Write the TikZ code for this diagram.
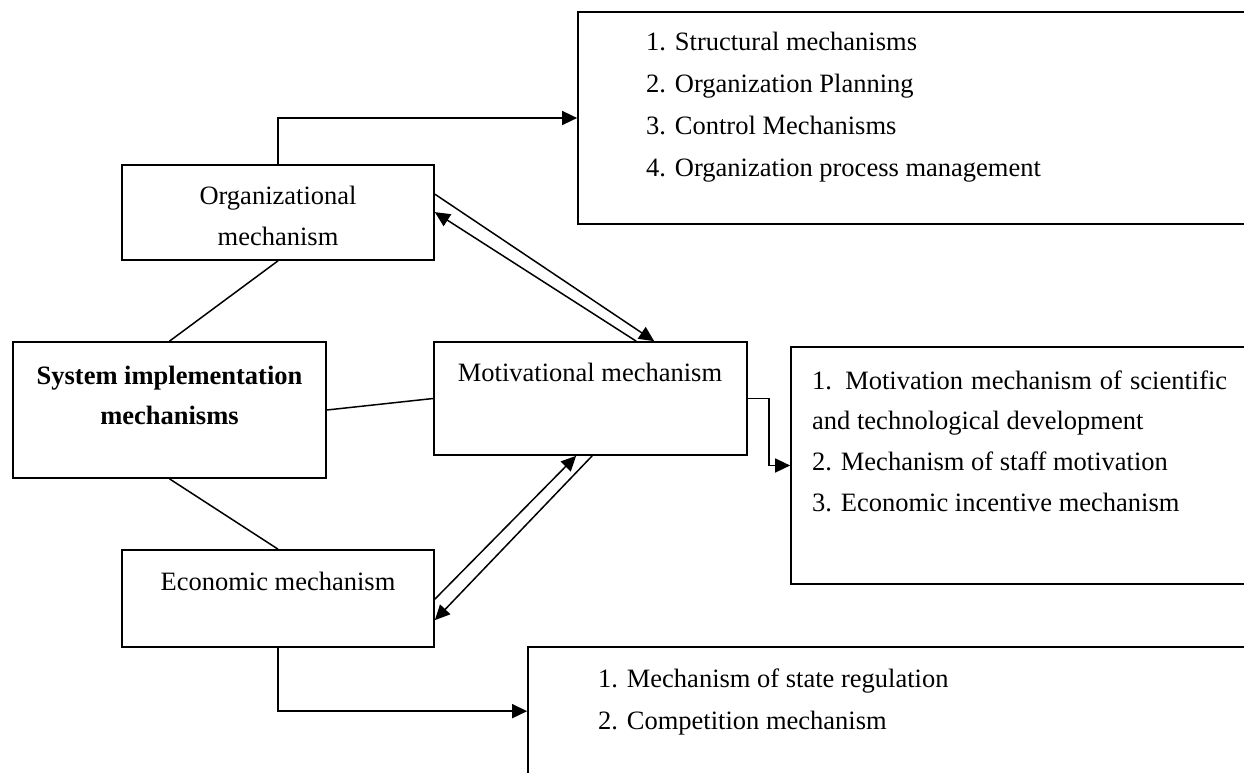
\documentclass[tikz,border=0pt]{standalone}
\usepackage{fontspec}
\setmainfont{Liberation Serif}
\usetikzlibrary{arrows.meta,calc}
\begin{document}
\begin{tikzpicture}[x=1pt,y=-1pt,
  box/.style={draw,line width=1.7pt,inner sep=0pt,rectangle},
  conn/.style={line width=1.5pt},
  arr/.style={line width=1.5pt,-{Triangle[length=15pt,width=14pt]}},
  lbl/.style={anchor=base,inner sep=0pt,font=\fontsize{26.5}{41}\selectfont},
  lst/.style={anchor=base west,inner sep=0pt,font=\fontsize{26.5}{41}\selectfont}]
\useasboundingbox (0,0) rectangle (1244,773);
\clip (0,0) rectangle (1244,773);
% boxes
\node[box,minimum width=712pt,minimum height=212pt] (b1) at (934,118) {};
\node[box,minimum width=312pt,minimum height=95pt] (org) at (278,212.5) {};
\node[box,minimum width=313pt,minimum height=136pt] (sys) at (169.5,410) {};
\node[box,minimum width=313pt,minimum height=113pt] (motiv) at (590.5,398.5) {};
\node[box,minimum width=499pt,minimum height=237pt] (rb) at (1040.5,465.5) {};
\node[box,minimum width=312pt,minimum height=97pt] (econ) at (278,598.5) {};
\node[box,minimum width=762pt,minimum height=173pt] (bb) at (909,733.5) {};
% labels
\node[lbl] (orgA) at (278,204) {Organizational};
\node[lbl] (orgB) at (278,245) {mechanism};
\node[lbl,font=\fontsize{26.5}{41}\selectfont\bfseries] (sysA) at (169.5,384) {System implementation};
\node[lbl,font=\fontsize{26.5}{41}\selectfont\bfseries] (sysB) at (169.5,424) {mechanisms};
\node[lbl] (motivL) at (590,381) {Motivational mechanism};
\node[lbl] (econL) at (278,590) {Economic mechanism};
% lists
\node[lst] (b1a) at (646,51) {1. Structural mechanisms};
\node[lst] (b1b) at (646,93) {2. Organization Planning};
\node[lst] (b1c) at (646,135) {3. Control Mechanisms};
\node[lst] (b1d) at (646,176) {4. Organization process management};
\node[lst] (rba) at (812,389) {\makebox[415pt][s]{1. Motivation mechanism of scientific}};
\node[lst] (rbb) at (812,429) {and technological development};
\node[lst] (rbc) at (812,470) {2. Mechanism of staff motivation};
\node[lst] (rbd) at (812,511) {3. Economic incentive mechanism};
\node[lst] (bba) at (598,687) {1. Mechanism of state regulation};
\node[lst] (bbb) at (598,729) {2. Competition mechanism};
% connectors
\draw[arr] (org.north) |- (b1.west);
\draw[conn] (org.south) -- (sys.north);
\draw[conn] (sys.south) -- (econ.north);
\draw[conn] (sys.east) -- (motiv.west);
\draw[arr] ($(org.north east)+(0,30)$) -- ($(motiv.north west)+(221,0)$);
\draw[arr] ($(motiv.north west)+(203,0)$) -- ($(org.north east)+(0,48)$);
\draw[arr] ($(econ.north east)+(0,50)$) -- ($(motiv.south west)+(143,0)$);
\draw[arr] ($(motiv.south west)+(159,0)$) -- ($(econ.north east)+(0,71)$);
\draw[arr] (motiv.east) -- ++(21,0) |- (rb.west);
\coordinate (bbin) at ($(bb.north west)+(0,65)$);
\draw[arr] (econ.south) |- (bbin);
\end{tikzpicture}
\end{document}
